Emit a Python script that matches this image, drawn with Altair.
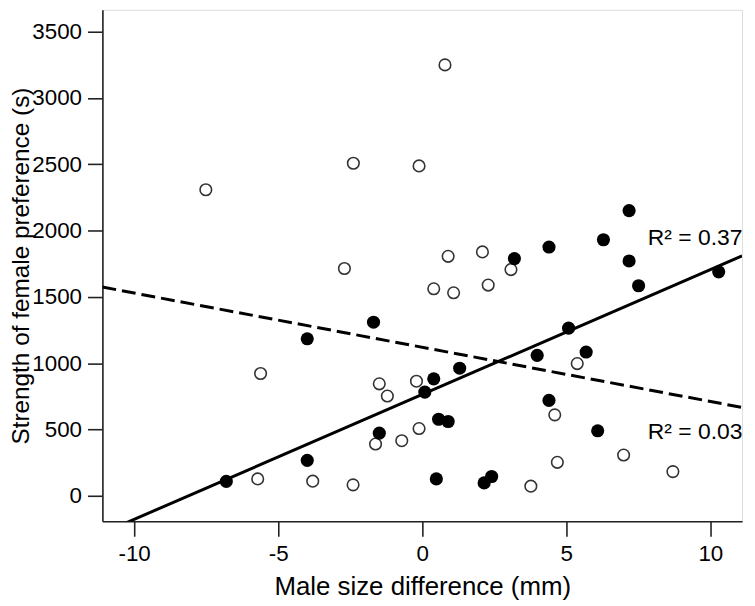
import altair as alt
import pandas as pd

# Open circles
open_x = [-7.51, -2.39, -2.70, 0.79, -0.11, 0.90, 2.09, 0.40, 1.09, 2.29, 3.08,
          -5.61, -5.71, -3.80, -2.40, -1.49, -1.21, -0.20, -1.62, -0.71, -0.11,
          5.38, 4.60, 4.69, 3.77, 6.99, 8.70]
open_y = [2308, 2508, 1714, 3250, 2488, 1806, 1839, 1561, 1531, 1589, 1706,
          922, 127, 110, 82, 844, 752, 864, 390, 415, 507,
          997, 610, 252, 72, 307, 182]

# Filled circles
filled_x = [-6.80, -3.99, -3.99, -1.69, -1.49, 0.09, 0.40, 1.30, 0.57, 0.90,
            0.49, 2.15, 2.41, 3.99, 5.08, 5.69, 4.40, 6.09, 3.20, 4.40,
            6.29, 7.18, 7.18, 7.51, 10.29]
filled_y = [108, 267, 1184, 1309, 472, 782, 882, 962, 577, 560,
            127, 97, 145, 1059, 1264, 1084, 719, 490, 1789, 1876,
            1931, 2151, 1771, 1584, 1689]

# Fit lines (slope, intercept) and R² labels
fit_names = ["filled", "open"]
fit_slope = [94.2, -40.9]
fit_intercept = [763.6, 1120.0]
r2_labels = ["R\u00b2 = 0.37", "R\u00b2 = 0.03"]
r2_x = [7.83, 7.83]
r2_y = [1889, 427]

x_ticks = [-10, -5, 0, 5, 10]
y_ticks = [0, 500, 1000, 1500, 2000, 2500, 3000, 3500]
x_domain = [-11.1, 11.1]
y_domain = [-193, 3665]

FONT = "Liberation Sans"

df_open = pd.DataFrame({"x": open_x, "y": open_y})
df_filled = pd.DataFrame({"x": filled_x, "y": filled_y})
rows = []
for n, s, b in zip(fit_names, fit_slope, fit_intercept):
    for xv in x_domain:
        rows.append({"fit": n, "x": xv, "y": b + s * xv})
df_lines = pd.DataFrame(rows)
df_text = pd.DataFrame({"label": r2_labels, "x": r2_x, "y": r2_y})

xscale = alt.Scale(domain=x_domain, nice=False, zero=False)
yscale = alt.Scale(domain=y_domain, nice=False, zero=False)

label_expr = "datum.value < 0 ? '-' + abs(datum.value) : '' + datum.value"

xaxis = alt.Axis(values=x_ticks, title="Male size difference (mm)", grid=False,
                 labelExpr=label_expr,
                 labelFontSize=22.5, titleFontSize=26, labelFont=FONT, titleFont=FONT,
                 labelColor="black", titleColor="black", domainColor="#222",
                 tickColor="#222", domainWidth=1.6, tickWidth=1.6, tickSize=15,
                 labelPadding=6, titleFontWeight="normal", titleBaseline="alphabetic",
                 titleY=74, labelFlush=False)
yaxis = alt.Axis(values=y_ticks, title="Strength of female preference (s)", grid=False,
                 labelExpr=label_expr,
                 labelFontSize=22.5, titleFontSize=24.5, labelFont=FONT, titleFont=FONT,
                 labelColor="black", titleColor="black", domainColor="#222",
                 tickColor="#222", domainWidth=1.6, tickWidth=1.6, tickSize=15,
                 labelPadding=6, titleFontWeight="normal", titleBaseline="alphabetic",
                 titleAngle=-90, titleX=-74, labelFlush=False)

base_x = alt.X("x:Q", scale=xscale, axis=xaxis)
base_y = alt.Y("y:Q", scale=yscale, axis=yaxis)

solid = alt.Chart(df_lines).transform_filter(alt.datum.fit == "filled").mark_line(
    color="black", strokeWidth=3, clip=True
).encode(x=base_x, y=base_y)

dashed = alt.Chart(df_lines).transform_filter(alt.datum.fit == "open").mark_line(
    color="black", strokeWidth=3, strokeDash=[14, 6], clip=True
).encode(x=base_x, y=base_y)

open_pts = alt.Chart(df_open).mark_point(
    shape="circle", filled=False, fill="white", fillOpacity=1, stroke="#333",
    strokeWidth=1.6, size=135, opacity=1
).encode(x=base_x, y=base_y)

filled_pts = alt.Chart(df_filled).mark_circle(
    color="black", size=175, opacity=1
).encode(x=base_x, y=base_y)

labels = alt.Chart(df_text).mark_text(
    align="left", baseline="alphabetic", fontSize=23, font=FONT, color="black"
).encode(x=alt.X("x:Q", scale=xscale), y=alt.Y("y:Q", scale=yscale), text="label:N")

chart = alt.layer(solid, dashed, open_pts, filled_pts, labels).properties(
    width=643.7, height=514.7,
    autosize=alt.AutoSizeParams(type="none"),
    padding={"left": 95, "top": 0, "right": 5, "bottom": 80},
).configure_view(stroke=None).configure(background="white")

chart.save("out.html", embed_options={"renderer": "svg", "actions": False})
